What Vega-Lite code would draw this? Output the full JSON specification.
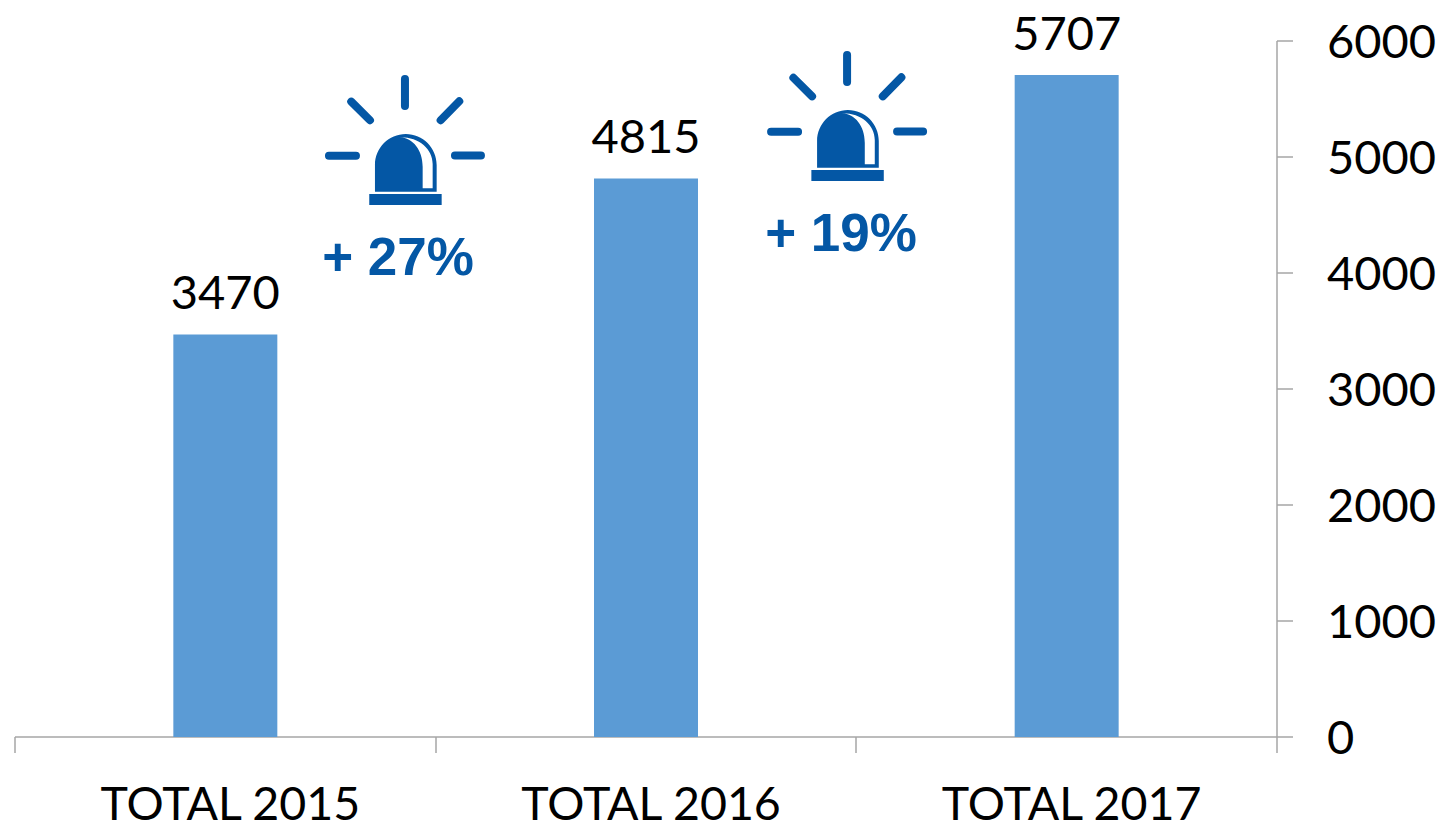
{
  "$schema": "https://vega.github.io/schema/vega-lite/v6.json",
  "width": 1262,
  "height": 696,
  "autosize": {"type": "none"},
  "padding": {"left": 15, "top": 41, "right": 168, "bottom": 91},
  "background": "white",
  "config": {"view": {"stroke": null}, "font": "Lato"},
  "datasets": {
    "totals": [
      {"label": "TOTAL 2015", "value": 3470},
      {"label": "TOTAL 2016", "value": 4815},
      {"label": "TOTAL 2017", "value": 5707}
    ],
    "alerts": [
      {"pos": 0.927, "level": 5147, "textPos": 0.9105, "textLevel": 3983, "change": "+ 27%"},
      {"pos": 1.978, "level": 5353, "textPos": 1.9636, "textLevel": 4190, "change": "+ 19%"}
    ]
  },
  "layer": [
    {
      "data": {"name": "totals"},
      "encoding": {
        "x": {
          "field": "label", "type": "nominal", "sort": null,
          "scale": {"paddingInner": 0.7528, "paddingOuter": 0.3764},
          "axis": {"orient": "bottom", "title": null, "ticks": false, "domain": false, "labelAngle": 0, "labelFontSize": 46.5, "labelFont": "Lato", "labelColor": "#000000", "labelPadding": 45, "labelOffset": 5, "labelAlign": "center", "labelBaseline": "top", "labelLimit": 0}
        },
        "y": {
          "field": "value", "type": "quantitative",
          "scale": {"domain": [0, 6000], "nice": false},
          "axis": {"orient": "right", "title": null, "grid": false, "values": [0, 1000, 2000, 3000, 4000, 5000, 6000], "format": "d", "translate": 0, "tickSize": 16, "tickWidth": 1.5, "tickColor": "#A6A6A6", "domainColor": "#A6A6A6", "domainWidth": 1.5, "labelFontSize": 47, "labelFont": "Lato", "labelColor": "#000000", "labelPadding": 34, "labelOffset": 3, "labelFlush": false}
        }
      },
      "layer": [
        {"mark": {"type": "bar", "color": "#5B9BD5"}},
        {
          "mark": {"type": "text", "baseline": "alphabetic", "dy": -25, "fontSize": 47, "font": "Lato", "color": "#000000"},
          "encoding": {"text": {"field": "value", "type": "quantitative", "format": "d"}}
        }
      ]
    },
    {
      "data": {"name": "alerts"},
      "encoding": {
        "x": {
          "field": "pos", "type": "quantitative",
          "scale": {"domain": [0, 3], "nice": false, "zero": false},
          "axis": {"orient": "bottom", "title": null, "grid": false, "values": [0, 1, 2, 3], "labels": false, "translate": 0, "tickSize": 16, "tickWidth": 1.5, "tickColor": "#A6A6A6", "domainColor": "#A6A6A6", "domainWidth": 1.5}
        },
        "y": {"field": "level", "type": "quantitative"}
      },
      "layer": [
        {
          "mark": {"type": "point", "filled": false, "size": 4, "opacity": 1, "stroke": "#0457A5", "strokeWidth": 8, "strokeCap": "round", "shape": "M0,-61L0,-34M-76,15.7L-49,15.7M50,15.5L76,15.5M-53.7,-38.3L-35,-19.7M54.3,-38.7L35.7,-19.7"}
        },
        {
          "mark": {"type": "point", "filled": true, "size": 4, "opacity": 1, "fill": "#0457A5", "strokeWidth": 0, "shape": "M-30,51.7L-30,25A30.85,31 0 0 1 31.7,25L31.7,51.7ZM-5,-2.7C8,-2 17.7,10 17.7,26.7L17.7,48.3L27.7,48.3L27.7,24C27.7,9 14,-3 -5,-2.7ZM-35.7,54L36.7,54L36.7,65L-35.7,65Z"}
        },
        {
          "mark": {"type": "text", "baseline": "alphabetic", "align": "center", "fontSize": 53, "fontWeight": "bold", "font": "Liberation Sans", "color": "#0457A5"},
          "encoding": {
            "x": {"field": "textPos", "type": "quantitative"},
            "y": {"field": "textLevel", "type": "quantitative"},
            "text": {"field": "change", "type": "nominal"}
          }
        }
      ]
    }
  ],
  "resolve": {"scale": {"x": "independent"}, "axis": {"x": "independent"}}
}
